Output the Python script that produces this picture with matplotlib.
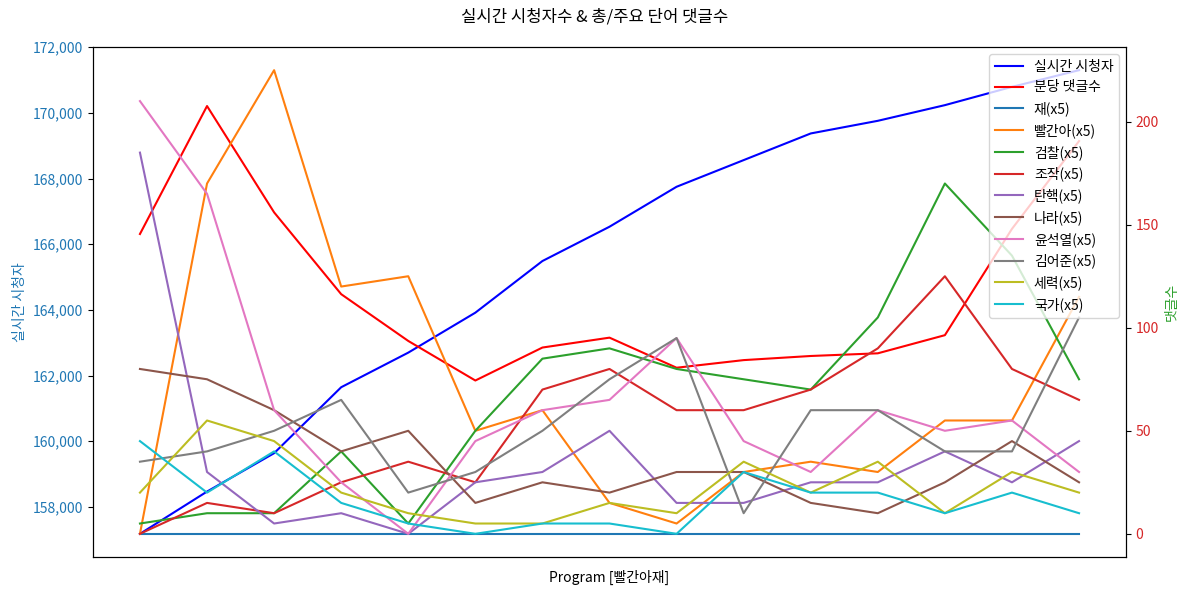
import matplotlib
matplotlib.use("Agg")
import matplotlib.pyplot as plt
from matplotlib.ticker import FuncFormatter

plt.rcParams['font.family'] = ['Noto Sans CJK KR', 'DejaVu Sans']
plt.rcParams['axes.unicode_minus'] = False

viewers = [157178, 158465, 159634, 161643, 162697, 163914, 165487, 166532,
           167749, 168561, 169373, 169758, 170235, 170792, 171300]
comments_per_min = [145.5, 207.6, 156.0, 116.3, 93.6, 74.4, 90.4, 95.2,
                    80.6, 84.3, 86.3, 87.6, 96.4, 148.0, 190.6]

scale = 5
word_names = ['재', '빨간아', '검찰', '조작', '탄핵', '나라', '윤석열', '김어준', '세력', '국가']
w_jae      = [0, 0, 0, 0, 0, 0, 0, 0, 0, 0, 0, 0, 0, 0, 0]
w_ppalgana = [0, 34, 45, 24, 25, 10, 12, 3, 1, 6, 7, 6, 11, 11, 23]
w_geomchal = [1, 2, 2, 8, 1, 10, 17, 18, 16, 15, 14, 21, 34, 27, 15]
w_jojak    = [0, 3, 2, 5, 7, 5, 14, 16, 12, 12, 14, 18, 25, 16, 13]
w_tanhaek  = [37, 6, 1, 2, 0, 5, 6, 10, 3, 3, 5, 5, 8, 5, 9]
w_nara     = [16, 15, 12, 8, 10, 3, 5, 4, 6, 6, 3, 2, 5, 9, 5]
w_yoon     = [42, 33, 12, 5, 0, 9, 12, 13, 19, 9, 6, 12, 10, 11, 6]
w_kim      = [7, 8, 10, 13, 4, 6, 10, 15, 19, 2, 12, 12, 8, 8, 21]
w_seryeok  = [4, 11, 9, 4, 2, 1, 1, 3, 2, 7, 4, 7, 2, 6, 4]
w_gukga    = [9, 4, 8, 3, 1, 0, 1, 1, 0, 6, 4, 4, 2, 4, 2]
word_series = [w_jae, w_ppalgana, w_geomchal, w_jojak, w_tanhaek,
               w_nara, w_yoon, w_kim, w_seryeok, w_gukga]

x = list(range(len(viewers)))

fig, ax1 = plt.subplots(figsize=(11.89, 5.92), dpi=100)
ax2 = ax1.twinx()

l1, = ax1.plot(x, viewers, color='blue', label='실시간 시청자')
l2, = ax2.plot(x, comments_per_min, color='red', label='분당 댓글수')
handles = [l1, l2]
for i, (name, vals) in enumerate(zip(word_names, word_series)):
    h, = ax2.plot(x, [v * scale for v in vals], color=f'C{i}', label=f'{name}(x{scale})')
    handles.append(h)

ax1.set_xticks([])
ax1.set_xlabel('Program [빨간아재]', labelpad=9)
ax1.set_ylabel('실시간 시청자', color='tab:blue')
ax1.tick_params(axis='y', labelcolor='tab:blue')
ax1.yaxis.set_major_formatter(FuncFormatter(lambda v, p: f'{int(v):,}'))
ax2.set_ylabel('댓글수', color='tab:green')
ax2.tick_params(axis='y', labelcolor='tab:red')

ax2.legend(handles=handles, labels=[h.get_label() for h in handles], loc='upper right')
fig.suptitle('실시간 시청자수 & 총/주요 단어 댓글수', fontsize=12, y=0.985)
fig.subplots_adjust(left=93/1189, right=1126/1189, top=1-47/592, bottom=1-557/592)
fig.savefig('out.png', dpi=100)
